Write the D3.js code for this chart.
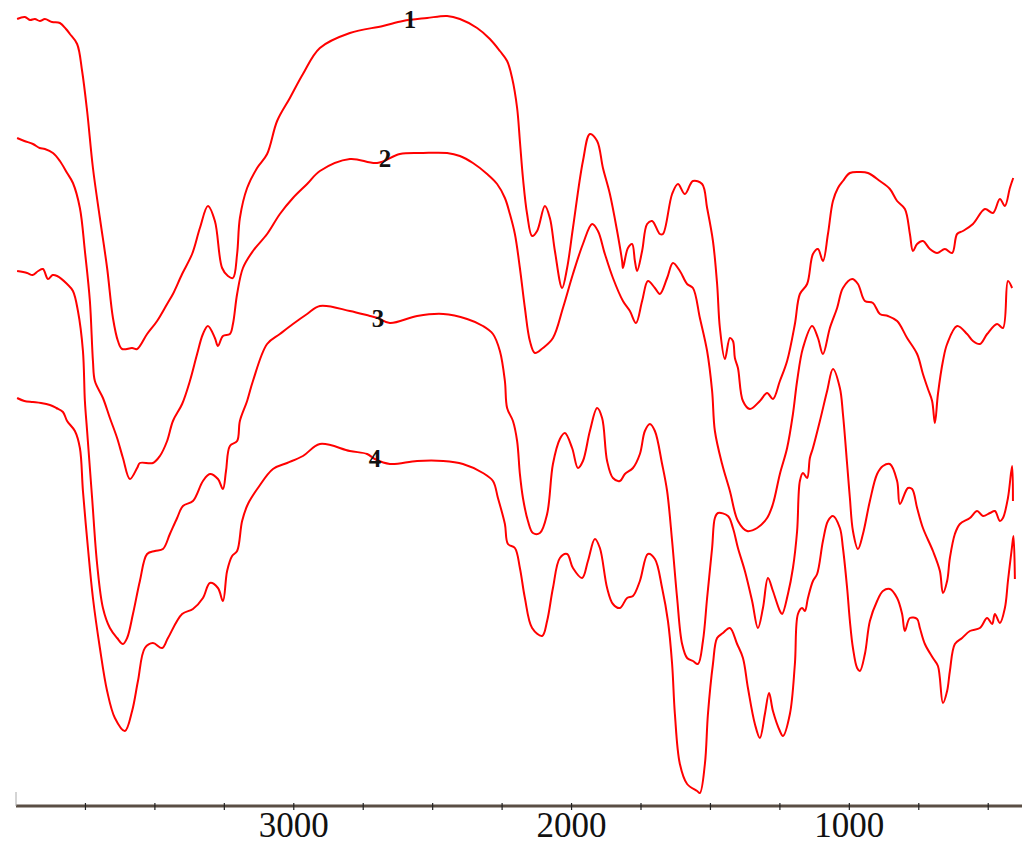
<!DOCTYPE html>
<html><head><meta charset="utf-8">
<script src="https://cdn.jsdelivr.net/npm/d3@7"></script>
<style>html,body{margin:0;padding:0;background:#fff;}svg{display:block;}</style>
</head><body>
<svg id="c" width="1024" height="845"></svg>
<script>
// Wavenumber (cm-1) vs transmittance (arbitrary offset units)
const xDomain = [4000, 400];
const xTicks = [3750, 3500, 3250, 3000, 2750, 2500, 2250, 2000, 1750, 1500, 1250, 1000, 750, 500];
const xTickLabels = [3000, 2000, 1000];
const seriesNames = ["1", "2", "3", "4"];

const spectrum1 = [[3996,787],[3968,789],[3950,786],[3932,787],[3914,785],[3896,787],[3870,784],[3842,783],[3820,777],[3806,772],[3780,762],[3762,735],[3744,695],[3723,638],[3698,588],[3672,538],[3651,488],[3633,465],[3618,457],[3582,458],[3564,457],[3528,472],[3492,485],[3456,502],[3435,512],[3402,532],[3366,552],[3338,578],[3309,600],[3284,585],[3258,538],[3237,530],[3219,528],[3204,552],[3194,588],[3168,618],[3132,638],[3096,652],[3060,685],[3014,708],[2967,732],[2906,758],[2798,773],[2679,780],[2607,785],[2520,788],[2448,790],[2402,787],[2340,778],[2294,767],[2258,755],[2232,745],[2214,728],[2196,698],[2186,665],[2175,628],[2160,592],[2142,570],[2124,575],[2096,600],[2078,588],[2060,555],[2034,518],[2016,538],[1995,578],[1959,645],[1934,672],[1908,665],[1887,638],[1862,612],[1836,575],[1818,545],[1815,538],[1797,558],[1782,562],[1772,545],[1764,535],[1746,555],[1728,582],[1710,585],[1682,572],[1671,572],[1638,612],[1617,622],[1592,612],[1563,625],[1530,622],[1512,598],[1491,565],[1476,522],[1466,478],[1448,447],[1430,468],[1419,465],[1412,448],[1401,438],[1383,405],[1358,397],[1322,405],[1296,413],[1275,407],[1250,425],[1224,445],[1196,482],[1178,512],[1152,522],[1131,552],[1113,557],[1095,545],[1077,572],[1059,605],[1041,618],[1023,625],[998,633],[962,634],[933,633],[890,625],[854,617],[828,605],[800,597],[782,572],[771,555],[756,562],[735,565],[710,557],[684,553],[656,557],[630,553],[612,572],[591,575],[555,582],[512,597],[483,593],[458,607],[440,600],[422,618],[410,628]];

const spectrum2 = [[3996,668],[3970,665],[3939,662],[3915,658],[3896,657],[3867,653],[3842,645],[3816,633],[3795,623],[3770,598],[3752,555],[3734,505],[3723,445],[3716,425],[3687,408],[3662,388],[3636,368],[3615,348],[3590,327],[3564,338],[3554,343],[3507,343],[3482,350],[3456,365],[3435,385],[3402,402],[3374,425],[3348,452],[3327,472],[3309,480],[3284,468],[3273,460],[3255,470],[3230,472],[3219,482],[3204,512],[3183,538],[3147,555],[3096,572],[3050,592],[3003,608],[2952,622],[2906,635],[2798,647],[2700,643],[2618,652],[2535,653],[2448,653],[2402,650],[2355,643],[2304,632],[2268,622],[2240,608],[2222,592],[2204,572],[2186,538],[2168,498],[2150,465],[2132,453],[2103,458],[2067,468],[2031,498],[1995,532],[1959,562],[1926,582],[1905,575],[1880,552],[1851,528],[1815,505],[1790,495],[1768,483],[1746,505],[1725,525],[1700,518],[1682,512],[1656,528],[1635,543],[1610,535],[1584,522],[1563,518],[1538,488],[1512,455],[1494,415],[1484,375],[1458,342],[1430,315],[1401,285],[1368,275],[1332,278],[1296,288],[1275,302],[1250,332],[1224,358],[1203,392],[1188,425],[1167,458],[1134,480],[1113,468],[1095,452],[1070,478],[1044,498],[1023,518],[990,527],[969,522],[944,505],[915,503],[890,492],[861,490],[828,485],[792,468],[756,452],[735,432],[717,417],[702,405],[692,383],[681,412],[663,445],[648,462],[612,480],[576,472],[555,465],[530,462],[504,472],[468,482],[447,478],[429,525],[414,518]];

const spectrum3 = [[3996,535],[3960,533],[3940,531],[3920,535],[3903,537],[3885,527],[3868,531],[3852,530],[3816,522],[3795,515],[3777,495],[3759,455],[3752,405],[3744,375],[3726,308],[3708,242],[3687,198],[3662,178],[3636,168],[3615,162],[3600,168],[3579,192],[3554,225],[3528,252],[3500,255],[3471,257],[3446,272],[3420,288],[3399,300],[3363,305],[3327,325],[3302,332],[3273,327],[3255,317],[3244,335],[3230,360],[3204,365],[3194,385],[3168,405],[3147,425],[3096,462],[3050,472],[3003,482],[2952,492],[2906,500],[2798,495],[2726,490],[2697,488],[2654,483],[2556,490],[2462,492],[2376,487],[2319,480],[2283,472],[2258,455],[2240,425],[2232,398],[2211,385],[2196,365],[2186,332],[2175,308],[2157,285],[2139,273],[2114,273],[2088,292],[2067,342],[2042,367],[2024,373],[1998,358],[1977,338],[1959,345],[1934,375],[1908,398],[1890,388],[1872,345],[1851,328],[1826,325],[1808,332],[1779,338],[1754,352],[1736,375],[1718,382],[1700,375],[1674,342],[1656,315],[1638,265],[1620,208],[1602,162],[1584,148],[1563,145],[1545,142],[1527,165],[1512,208],[1494,258],[1484,288],[1473,293],[1437,290],[1419,278],[1401,258],[1376,235],[1350,205],[1329,178],[1311,198],[1293,228],[1275,215],[1250,195],[1242,192],[1221,212],[1203,238],[1188,275],[1178,325],[1167,333],[1152,328],[1142,348],[1131,358],[1106,385],[1080,415],[1059,437],[1034,418],[1023,392],[1008,342],[998,308],[987,275],[969,257],[951,272],[926,305],[900,332],[879,340],[854,342],[828,325],[818,302],[789,318],[774,317],[756,298],[735,278],[699,255],[674,235],[663,213],[648,225],[638,248],[620,272],[602,282],[566,288],[540,295],[519,290],[494,293],[476,295],[458,285],[447,288],[429,308],[414,340],[411,305]];

const spectrum4 = [[3996,408],[3970,405],[3939,404],[3910,403],[3878,401],[3855,398],[3831,394],[3816,385],[3788,375],[3770,358],[3759,315],[3741,258],[3723,208],[3698,158],[3672,115],[3644,88],[3608,75],[3582,95],[3561,125],[3536,158],[3507,163],[3474,158],[3453,168],[3402,192],[3363,197],[3327,208],[3302,223],[3273,218],[3255,205],[3240,235],[3222,250],[3204,255],[3186,285],[3165,302],[3129,318],[3075,337],[3024,343],[2967,350],[2906,362],[2798,355],[2736,352],[2708,347],[2654,342],[2556,345],[2462,345],[2391,342],[2319,333],[2283,325],[2265,308],[2240,282],[2229,262],[2204,258],[2186,238],[2168,208],[2142,178],[2106,170],[2088,185],[2067,218],[2042,248],[2016,252],[1995,238],[1962,228],[1941,245],[1916,267],[1898,258],[1872,218],[1851,202],[1826,198],[1800,208],[1779,210],[1754,225],[1725,252],[1700,247],[1674,218],[1653,185],[1638,142],[1628,92],[1610,42],[1584,22],[1548,15],[1538,13],[1520,42],[1509,92],[1491,142],[1476,168],[1455,173],[1430,178],[1404,162],[1383,148],[1365,118],[1340,82],[1322,68],[1304,92],[1289,113],[1275,95],[1250,75],[1239,70],[1214,92],[1196,142],[1185,192],[1170,198],[1160,195],[1149,208],[1131,225],[1116,232],[1095,265],[1077,285],[1059,290],[1034,278],[1023,258],[1008,218],[998,185],[987,158],[972,138],[962,135],[944,152],[926,185],[900,205],[879,215],[854,217],[828,208],[810,192],[800,175],[782,188],[756,187],[746,178],[728,162],[699,148],[681,140],[663,103],[648,115],[638,135],[620,162],[594,168],[566,175],[530,178],[504,188],[486,182],[476,192],[458,183],[440,198],[429,225],[414,260],[409,270],[404,227]];

const spectra = [spectrum1, spectrum2, spectrum3, spectrum4];
// curve label anchor points [wavenumber, transmittance]
const labelPoints = [[2582,786],[2672,647],[2697,487],[2708,347]];

const svg = d3.select("#c");
const x = d3.scaleLinear().domain(xDomain).range([16, 1016]);
const y = d3.scaleLinear().domain([0, 800]).range([806, 6]);

const line = d3.line().x(d => x(d[0])).y(d => y(d[1])).curve(d3.curveCatmullRom.alpha(0.5));

svg.append("g").selectAll("path").data(spectra).join("path")
  .attr("d", line).attr("fill", "none").attr("stroke", "#ff0000")
  .attr("stroke-width", 2).attr("stroke-linejoin", "round");

svg.append("g").selectAll("text").data(labelPoints).join("text")
  .attr("x", d => x(d[0])).attr("y", d => y(d[1]) + 8)
  .attr("text-anchor", "middle")
  .attr("font-family", "'Liberation Serif', 'DejaVu Serif', serif")
  .attr("font-size", 25).attr("font-weight", "bold").attr("fill", "#111")
  .text((d, i) => seriesNames[i]);

// x axis
const axisY = y(0);
const ax = svg.append("g");
ax.append("line").attr("x1", 16).attr("x2", 1022).attr("y1", axisY).attr("y2", axisY)
  .attr("stroke", "#5a4e44").attr("stroke-width", 3);
ax.append("line").attr("x1", 16).attr("x2", 16).attr("y1", axisY - 14).attr("y2", axisY)
  .attr("stroke", "#aaa").attr("stroke-width", 1);
ax.selectAll("line.t").data(xTicks).join("line").attr("class", "t")
  .attr("x1", d => x(d)).attr("x2", d => x(d)).attr("y1", axisY - 3).attr("y2", axisY + 4)
  .attr("stroke", "#222").attr("stroke-width", 1.2);
ax.selectAll("text").data(xTickLabels).join("text")
  .attr("x", d => x(d)).attr("y", axisY + 31)
  .attr("text-anchor", "middle")
  .attr("font-family", "'Liberation Serif', 'DejaVu Serif', serif")
  .attr("font-size", 35).attr("fill", "#111")
  .text(d => d);
</script>
</body></html>
